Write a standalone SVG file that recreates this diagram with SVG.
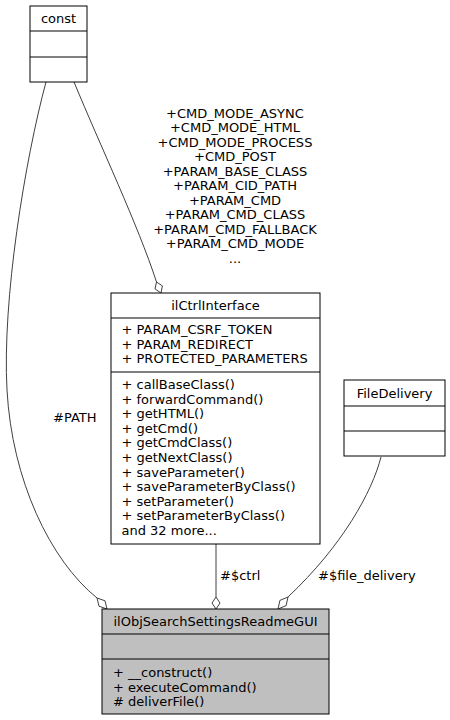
<svg xmlns="http://www.w3.org/2000/svg" width="450" height="720" viewBox="0 0 450 720">
<style>
text{font-family:"DejaVu Sans","Liberation Sans",sans-serif;font-size:13px;fill:#000}
.c{text-anchor:middle}
.box{fill:#fff;stroke:#000;stroke-width:1}
.main{fill:#bfbfbf;stroke:#000;stroke-width:1}
.sep{stroke:#000;stroke-width:1}
.edge{fill:none;stroke:#404040;stroke-width:1}
.dia{fill:#fff;stroke:#404040;stroke-width:1}
</style>
<rect width="450" height="720" fill="#fff"/>
<g id="connectors">
<path class="edge" d="M46,82 C25,160 2,300 7,390 C12,480 50,560 97,598"/>
<polygon class="dia" points="107,609 105,600.8 97,598 99,606.2"/>
<text x="53" y="422">#PATH</text>
<path class="edge" d="M74,82 C100,145 138,225 156.5,282"/>
<polygon class="dia" points="161,293 162.4,285.9 156.5,282 155,288.9"/>
<g class="c">
<text x="235" y="117.5">+CMD_MODE_ASYNC</text>
<text x="235" y="132">+CMD_MODE_HTML</text>
<text x="235" y="146.5">+CMD_MODE_PROCESS</text>
<text x="235" y="161">+CMD_POST</text>
<text x="235" y="175.5">+PARAM_BASE_CLASS</text>
<text x="235" y="190">+PARAM_CID_PATH</text>
<text x="235" y="204.5">+PARAM_CMD</text>
<text x="235" y="219">+PARAM_CMD_CLASS</text>
<text x="235" y="233.5">+PARAM_CMD_FALLBACK</text>
<text x="235" y="248">+PARAM_CMD_MODE</text>
<text x="235" y="262.5">...</text>
</g>
<path class="edge" d="M216,544 L216,597"/>
<polygon class="dia" points="216,609 220,603 216,597 212,603"/>
<text x="220" y="580">#$ctrl</text>
<path class="edge" d="M381,457 C372,492 343,545 288,597"/>
<polygon class="dia" points="278,609 286.1,605.6 288,597 279.9,600.4"/>
<text x="318" y="580">#$file_delivery</text>
</g>
<g id="const">
<rect class="box" x="30" y="6" width="57" height="76"/>
<line class="sep" x1="30" y1="31" x2="87" y2="31"/>
<line class="sep" x1="30" y1="57" x2="87" y2="57"/>
<text class="c" x="58.5" y="22.5">const</text>
</g>
<g id="ilCtrlInterface">
<rect class="box" x="111" y="293" width="209" height="251"/>
<line class="sep" x1="111" y1="318" x2="320" y2="318"/>
<line class="sep" x1="111" y1="372" x2="320" y2="372"/>
<text class="c" x="215.5" y="310">ilCtrlInterface</text>
<text x="121.5" y="334">+ PARAM_CSRF_TOKEN</text>
<text x="121.5" y="348.5">+ PARAM_REDIRECT</text>
<text x="121.5" y="363">+ PROTECTED_PARAMETERS</text>
<text x="121.5" y="389">+ callBaseClass()</text>
<text x="121.5" y="403.6">+ forwardCommand()</text>
<text x="121.5" y="418.2">+ getHTML()</text>
<text x="121.5" y="432.8">+ getCmd()</text>
<text x="121.5" y="447.4">+ getCmdClass()</text>
<text x="121.5" y="462">+ getNextClass()</text>
<text x="121.5" y="476.6">+ saveParameter()</text>
<text x="121.5" y="491.2">+ saveParameterByClass()</text>
<text x="121.5" y="505.8">+ setParameter()</text>
<text x="121.5" y="520.4">+ setParameterByClass()</text>
<text x="121.5" y="535">and 32 more...</text>
</g>
<g id="FileDelivery">
<rect class="box" x="344" y="380" width="101" height="76"/>
<line class="sep" x1="344" y1="406" x2="445" y2="406"/>
<line class="sep" x1="344" y1="431" x2="445" y2="431"/>
<text class="c" x="394.5" y="397.5">FileDelivery</text>
</g>
<g id="ilObjSearchSettingsReadmeGUI">
<rect class="main" x="102" y="609" width="227" height="105"/>
<line class="sep" x1="102" y1="634" x2="329" y2="634"/>
<line class="sep" x1="102" y1="659" x2="329" y2="659"/>
<text class="c" x="215.5" y="626">ilObjSearchSettingsReadmeGUI</text>
<text x="113" y="677">+ __construct()</text>
<text x="113" y="691.5">+ executeCommand()</text>
<text x="113" y="706">#  deliverFile()</text>
</g>
</svg>
